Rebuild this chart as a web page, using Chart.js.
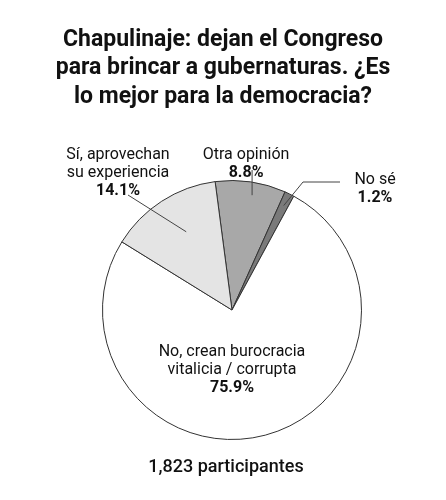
<!DOCTYPE html>
<html><head><meta charset="utf-8">
<script src="https://cdn.jsdelivr.net/npm/chart.js@4"></script>
<style>html,body{margin:0;padding:0;background:#fff}#wrap{width:446px;height:500px}</style>
</head><body><div id="wrap"><canvas id="c" width="446" height="500"></canvas></div>
<script>
const categories = ['Otra opinión', 'No sé', 'No, crean burocracia vitalicia / corrupta', 'Sí, aprovechan su experiencia'];
const values = [8.8, 1.2, 75.9, 14.1];
const colors = ['#a8a8a8', '#7a7a7a', '#ffffff', '#e4e4e4'];
const titleLines = ['Chapulinaje: dejan el Congreso', 'para brincar a gubernaturas. ¿Es', 'lo mejor para la democracia?'];
const footer = '1,823 participantes';

const FONT = 'Roboto, "Noto Sans", sans-serif';
const pct = (v) => `${v.toFixed(1)}%`;

// point on an arc at given angle offset (fraction of slice) and radius factor
function arcPoint(arc, frac, rf) {
  const p = arc.getProps(['x', 'y', 'startAngle', 'endAngle', 'outerRadius']);
  const a = p.startAngle + (p.endAngle - p.startAngle) * frac;
  return { x: p.x + Math.cos(a) * p.outerRadius * rf, y: p.y + Math.sin(a) * p.outerRadius * rf };
}

const labels = {
  id: 'labels',
  afterDraw(chart) {
    const ctx = chart.ctx;
    const arcs = chart.getDatasetMeta(0).data;
    ctx.save();
    ctx.fillStyle = '#111';
    ctx.textAlign = 'center';
    ctx.textBaseline = 'middle';
    ctx.font = `bold 23px ${FONT}`;
    titleLines.forEach((t, i) => ctx.fillText(t, 223, 40 + i * 28.5));
    ctx.font = `500 18px ${FONT}`;
    ctx.fillText(footer, 226, 467);

    const line = (a, b, c) => {
      ctx.beginPath();
      ctx.moveTo(a.x, a.y);
      ctx.lineTo(b.x, b.y);
      if (c) ctx.lineTo(c.x, c.y);
      ctx.strokeStyle = '#444';
      ctx.lineWidth = 1;
      ctx.stroke();
    };
    const block = (x, y, lines, val) => {
      ctx.font = `16px ${FONT}`;
      lines.forEach((t, i) => ctx.fillText(t, x, y + i * 18));
      ctx.font = `bold 16px ${FONT}`;
      ctx.fillText(pct(val), x, y + lines.length * 18);
    };

    // Otra opinión
    const o = arcPoint(arcs[0], 0.55, 0.9);
    line({ x: o.x, y: 170 }, o);
    block(o.x - 6, 155, ['Otra opinión'], values[0]);
    // No sé
    const n = arcPoint(arcs[1], 0.5, 0.9);
    line(n, { x: 303, y: 182 }, { x: 340, y: 182 });
    block(375, 180, ['No sé'], values[1]);
    // Sí
    const s = arcPoint(arcs[3], 0.55, 0.7);
    line({ x: 128, y: 195 }, s);
    block(118, 155, ['Sí, aprovechan', 'su experiencia'], values[3]);
    // No
    const c = arcs[2].getProps(['x', 'y']);
    block(c.x, c.y + 42, ['No, crean burocracia', 'vitalicia / corrupta'], values[2]);
    ctx.restore();
  }
};

new Chart(document.getElementById('c'), {
  type: 'pie',
  data: {
    labels: categories,
    datasets: [{ data: values, backgroundColor: colors, borderColor: '#333', borderWidth: 1 }]
  },
  options: {
    responsive: false,
    animation: false,
    rotation: -7.5,
    layout: { padding: { top: 180, bottom: 60, left: 102, right: 84 } },
    plugins: { legend: { display: false }, tooltip: { enabled: false } }
  },
  plugins: [labels]
});
</script></body></html>
